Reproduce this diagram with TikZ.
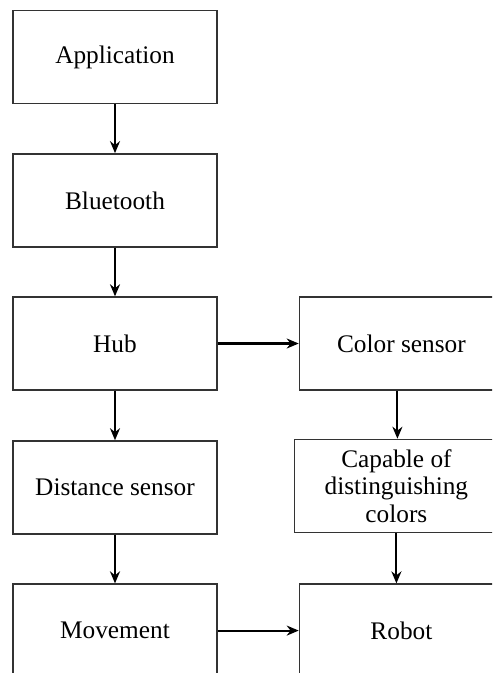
\documentclass[tikz,border=0pt]{standalone}
\usepackage{fontspec}
\setmainfont{Liberation Serif}
\usetikzlibrary{positioning,arrows.meta}

\begin{document}
\begin{tikzpicture}[
  block/.style={draw=black!80, line width=0.8pt, fill=white, minimum width=4.08cm,
    minimum height=1.86cm, align=center, font=\fontsize{14.4}{15.6}\selectfont},
  link/.style={line width=1.2pt, -{Stealth[length=2.4mm,width=2mm]}},
  node distance=0.975cm]
  \useasboundingbox (0,0) rectangle (9.84cm,-13.46cm);
  \clip (0,0) rectangle (9.84cm,-13.46cm);
  \node[block, anchor=north] (app) at (2.30cm,-0.20cm) {Application};
  \node[block, below=of app] (bt) {Bluetooth};
  \node[block, below=of bt] (hub) {Hub};
  \node[block, below=0.99cm of hub] (dist) {Distance sensor};
  \node[block, below=of dist] (move) {Movement};
  \node[block, right=1.62cm of hub] (color) {Color sensor};
  \node[block, below=0.96cm of color, xshift=-0.1cm] (capable) {Capable of\\distinguishing\\colors};
  \node[block, right=1.62cm of move] (robot) {Robot};
  \draw[link] (app) -- (bt);
  \draw[link] (bt) -- (hub);
  \draw[link] (hub) -- (dist);
  \draw[link] (dist) -- (move);
  \draw[link] (hub) -- (color);
  \draw[link] ([xshift=-0.08cm]color.south) -- ([xshift=-0.08cm]color.south |- capable.north);
  \draw[link] (capable.south) -- (capable.south |- robot.north);
  \draw[link] (move) -- (robot);
\end{tikzpicture}
\end{document}
